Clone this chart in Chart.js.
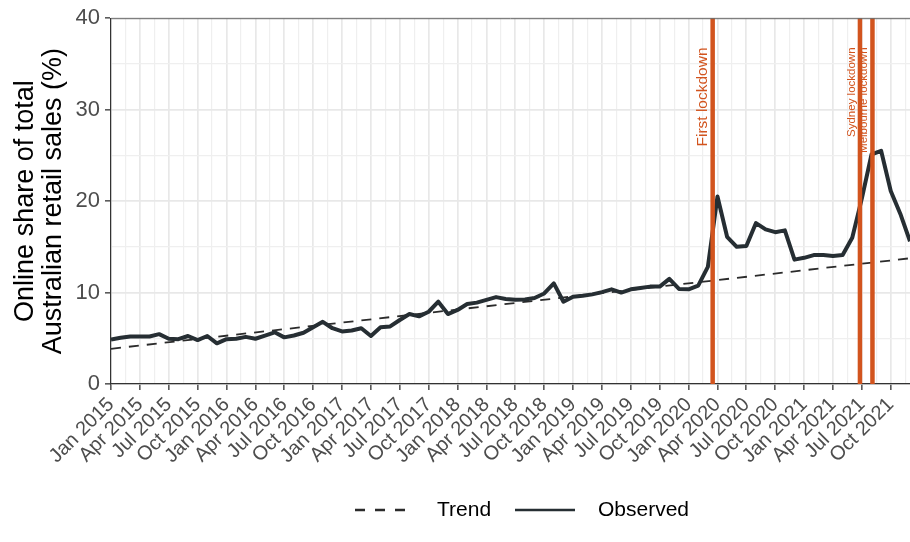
<!DOCTYPE html>
<html>
<head>
<meta charset="utf-8">
<script src="https://cdn.jsdelivr.net/npm/chart.js@4/dist/chart.umd.min.js"></script>
<style>
  html, body { margin: 0; padding: 0; background: #fff; }
  #wrap { width: 910px; height: 542px; }
</style>
</head>
<body>
<div id="wrap"><canvas id="onlineShare"></canvas></div>
<script>
// monthly series, Jan 2015 .. Dec 2021 (x = month index from Jan 2015)
const years = [2015, 2016, 2017, 2018, 2019, 2020, 2021];
const monthNames = ["Jan", "Feb", "Mar", "Apr", "May", "Jun", "Jul", "Aug", "Sep", "Oct", "Nov", "Dec"];

const observed = [
  4.85, 5.05, 5.2, 5.2, 5.2, 5.45, 4.95, 4.9, 5.25, 4.8, 5.25, 4.45,
  4.9, 4.95, 5.15, 4.95, 5.3, 5.65, 5.1, 5.3, 5.6, 6.2, 6.8, 6.1,
  5.75, 5.85, 6.1, 5.25, 6.2, 6.3, 7.0, 7.65, 7.4, 7.9, 9.0, 7.65,
  8.1, 8.75, 8.9, 9.2, 9.5, 9.3, 9.2, 9.25, 9.4, 9.9, 11.0, 9.0,
  9.55, 9.65, 9.8, 10.05, 10.35, 10.0, 10.35, 10.5, 10.65, 10.65, 11.5, 10.4,
  10.35, 10.75, 12.8, 20.5, 16.1, 15.0, 15.1, 17.6, 16.9, 16.6, 16.8, 13.6,
  13.8, 14.1, 14.1, 14.0, 14.1, 16.0, 20.3, 25.1, 25.5, 21.1, 18.6, 15.6
];

// straight trend line: start and end values
const trendMonths = [0, 83];
const trendValues = [3.85, 13.75];

const xTickLabels = [
  "Jan 2015", "Apr 2015", "Jul 2015", "Oct 2015",
  "Jan 2016", "Apr 2016", "Jul 2016", "Oct 2016",
  "Jan 2017", "Apr 2017", "Jul 2017", "Oct 2017",
  "Jan 2018", "Apr 2018", "Jul 2018", "Oct 2018",
  "Jan 2019", "Apr 2019", "Jul 2019", "Oct 2019",
  "Jan 2020", "Apr 2020", "Jul 2020", "Oct 2020",
  "Jan 2021", "Apr 2021", "Jul 2021", "Oct 2021"
];

const lockdownNames = ["First lockdown", "Sydney lockdown", "Melbourne lockdown"];
const lockdownMonths = [62.5, 77.8, 79.1];

const seriesNames = ["Observed", "Trend"];

const months = [];
years.forEach(y => monthNames.forEach(m => months.push(m + " " + y)));

const lockdownColour = "#d2541e";
const lineColour = "#262e33";
const FONT = '"Liberation Sans", Arial, sans-serif';

function isMajor(v, step) {
  return Math.abs(v / step - Math.round(v / step)) < 1e-6;
}

const lockdownPlugin = {
  id: "lockdowns",
  afterDatasetsDraw(chart) {
    const { ctx, chartArea } = chart;
    const x = chart.scales.x;
    const y = chart.scales.y;

    ctx.save();
    lockdownNames.forEach((name, i) => {
      const px = x.getPixelForValue(lockdownMonths[i]);

      ctx.strokeStyle = lockdownColour;
      ctx.lineWidth = 4.5;
      ctx.beginPath();
      ctx.moveTo(px, chartArea.top);
      ctx.lineTo(px, chartArea.bottom);
      ctx.stroke();

      ctx.save();
      ctx.translate(px - 2.5, y.getPixelForValue(36.8));
      ctx.rotate(-Math.PI / 2);
      ctx.font = (i === 0 ? 15.5 : 11.5) + "px " + FONT;
      ctx.fillStyle = lockdownColour;
      ctx.textAlign = "right";
      ctx.textBaseline = "bottom";
      ctx.fillText(name, 0, 0);
      ctx.restore();
    });

    // panel border along the top
    ctx.strokeStyle = "#666";
    ctx.lineWidth = 1;
    ctx.beginPath();
    ctx.moveTo(chartArea.left, chartArea.top + 0.5);
    ctx.lineTo(chartArea.right, chartArea.top + 0.5);
    ctx.stroke();
    ctx.restore();
  }
};

const legendPlugin = {
  id: "bottomLegend",
  afterDraw(chart) {
    const { ctx } = chart;
    const yMid = 510;
    const trend = chart.data.datasets[1];
    const obs = chart.data.datasets[0];

    ctx.save();
    ctx.font = "21px " + FONT;
    ctx.fillStyle = "#000";
    ctx.textBaseline = "middle";
    ctx.textAlign = "left";

    ctx.strokeStyle = trend.borderColor;
    ctx.lineWidth = 2.5;
    ctx.setLineDash([10, 10]);
    ctx.beginPath();
    ctx.moveTo(355, yMid);
    ctx.lineTo(405, yMid);
    ctx.stroke();
    ctx.fillText(trend.label, 437, yMid);

    ctx.strokeStyle = obs.borderColor;
    ctx.setLineDash([]);
    ctx.beginPath();
    ctx.moveTo(515, yMid);
    ctx.lineTo(575, yMid);
    ctx.stroke();
    ctx.fillText(obs.label, 598, yMid);
    ctx.restore();
  }
};

const ctx = document.getElementById("onlineShare").getContext("2d");

new Chart(ctx, {
  type: "line",
  data: {
    datasets: [
      {
        label: seriesNames[0],
        data: observed.map((v, i) => ({ x: i, y: v, month: months[i] })),
        borderColor: lineColour,
        borderWidth: 4,
        borderJoinStyle: "round",
        pointRadius: 0,
        tension: 0
      },
      {
        label: seriesNames[1],
        data: trendMonths.map((m, i) => ({ x: m, y: trendValues[i] })),
        borderColor: "#2b2b2b",
        borderWidth: 1.8,
        borderDash: [10, 8],
        pointRadius: 0,
        tension: 0
      }
    ]
  },
  options: {
    responsive: true,
    maintainAspectRatio: false,
    animation: false,
    layout: {
      padding: { top: 18, right: 0, bottom: 48, left: 0 }
    },
    plugins: {
      legend: { display: false },
      tooltip: { enabled: false }
    },
    scales: {
      x: {
        type: "linear",
        min: 0,
        max: 83,
        afterFit(scale) {
          scale.height = 110;
          scale.paddingLeft = 0;
          scale.paddingRight = 0;
        },
        border: { display: true, color: "#333", width: 1.2 },
        grid: {
          color: c => (c.tick && isMajor(c.tick.value, 3) ? "#e8e8e8" : "#efefef"),
          lineWidth: c => (c.tick && isMajor(c.tick.value, 3) ? 1.7 : 1.2),
          tickColor: c => (c.tick && isMajor(c.tick.value, 3) ? "#333" : "rgba(0,0,0,0)"),
          tickWidth: 1.3,
          tickLength: 6
        },
        ticks: {
          stepSize: 1.5,
          includeBounds: false,
          autoSkip: false,
          minRotation: 45,
          maxRotation: 45,
          padding: 3,
          color: "#4d4d4d",
          font: { family: FONT, size: 20 },
          callback: v => (isMajor(v, 3) ? xTickLabels[Math.round(v / 3)] : "")
        }
      },
      y: {
        min: 0,
        max: 40,
        afterFit(scale) {
          scale.width = 111;
        },
        border: { display: true, color: "#333", width: 1.2 },
        grid: {
          color: c => (c.tick && isMajor(c.tick.value, 10) ? "#e8e8e8" : "#efefef"),
          lineWidth: c => (c.tick && isMajor(c.tick.value, 10) ? 1.7 : 1.2),
          tickColor: c => (c.tick && isMajor(c.tick.value, 10) ? "#333" : "rgba(0,0,0,0)"),
          tickWidth: 1.3,
          tickLength: 6
        },
        ticks: {
          stepSize: 5,
          padding: 5,
          color: "#4d4d4d",
          font: { family: FONT, size: 22 },
          callback: v => (isMajor(v, 10) ? v : "")
        },
        title: {
          display: true,
          text: ["Online share of total", "Australian retail sales (%)"],
          color: "#000",
          font: { family: FONT, size: 27, lineHeight: 1.05 },
          padding: { top: 11, bottom: 0 }
        }
      }
    }
  },
  plugins: [lockdownPlugin, legendPlugin]
});
</script>
</body>
</html>
